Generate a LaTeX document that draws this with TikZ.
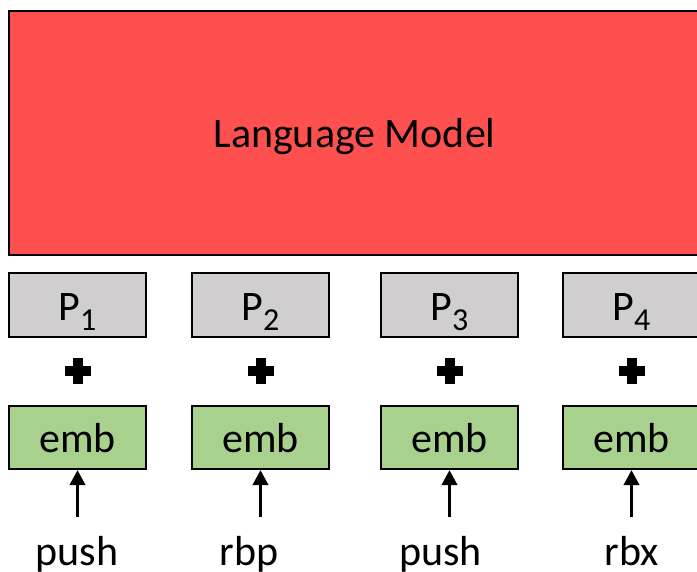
\documentclass[tikz,border=0pt]{standalone}
\usepackage{fontspec}
\setmainfont{Carlito}
\usetikzlibrary{arrows.meta}

\definecolor{lmred}{HTML}{FF5050}
\definecolor{posgray}{HTML}{D0CECE}
\definecolor{embgreen}{HTML}{A9D18E}

\tikzset{
  boxtext/.style={font=\fontsize{42bp}{50bp}\selectfont, text height=30bp, text depth=0bp, inner sep=0pt, align=center},
  lmbox/.style={boxtext, draw=black, line width=2.6bp, fill=lmred, minimum width=691bp, minimum height=244bp},
  posbox/.style={boxtext, draw=black, line width=2bp, fill=posgray, minimum width=137bp, minimum height=64bp},
  embbox/.style={boxtext, draw=black, line width=2bp, fill=embgreen, minimum width=137bp, minimum height=63bp},
  tokentext/.style={font=\fontsize{42bp}{50bp}\selectfont, inner sep=0pt, anchor=base},
  inarrow/.style={line width=3.6bp, -{Triangle[width=15bp,length=15bp]}},
}
\newcommand{\possub}[1]{\raisebox{-10bp}{\fontsize{32bp}{32bp}\selectfont #1}}

\begin{document}
\begin{tikzpicture}[x=1bp, y=-1bp]
  \useasboundingbox (0,0) rectangle (697,572);
  \clip (0,0) rectangle (697,572);

  % language model block
  \node[lmbox] (lm) at (354.5,133) {Language Model};

  % one column per token: position box, plus sign, embedding, token
  \foreach \i/\cx/\tx/\tok in {1/77.5/77/push, 2/260.5/249/rbp, 3/449.5/440.5/push, 4/631.5/631.5/rbx} {
    \node[posbox] (p\i) at (\cx,305) {P\possub{\i}};
    \fill[black] (\cx-13,366) rectangle (\cx+13,376);
    \fill[black] (\cx-5,358) rectangle (\cx+5,384);
    \node[embbox] (e\i) at (\cx,437.5) {emb};
    \node[tokentext] (t\i) at (\tx,565) {\tok};
    \coordinate (s\i) at (\cx,517);
    \draw[inarrow] (s\i) -- (e\i.south);
  }
\end{tikzpicture}
\end{document}
